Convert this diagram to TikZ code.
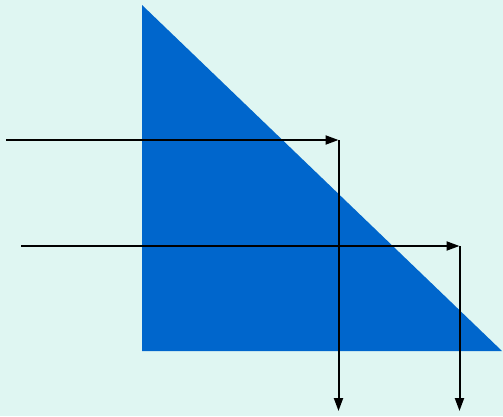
\documentclass[tikz,border=0pt]{standalone}
\usetikzlibrary{arrows.meta}
\definecolor{bgc}{HTML}{DFF6F2}
\definecolor{prism}{HTML}{0066CC}
\begin{document}
\begin{tikzpicture}[x=1pt,y=-1pt,
  ray/.style={draw=black,line width=2pt,-{Triangle[length=13pt,width=9pt]}}]
\fill[bgc] (0,0) rectangle (503,416);
\useasboundingbox (0,0) rectangle (503,416);
\coordinate (tA) at (142,5);
\coordinate (tB) at (142,351);
\coordinate (tC) at (502,351);
\fill[prism] (tA) -- (tB) -- (tC) -- cycle;
\coordinate (s1) at (6,140);
\coordinate (c1) at (338.5,140);
\coordinate (e1) at (338.5,411);
\coordinate (s2) at (21,246);
\coordinate (c2) at (459.5,246);
\coordinate (e2) at (459.5,411);
\draw[ray] (s1) -- (c1);
\draw[ray] (c1) -- (e1);
\draw[ray] (s2) -- (c2);
\draw[ray] (c2) -- (e2);
\end{tikzpicture}
\end{document}
